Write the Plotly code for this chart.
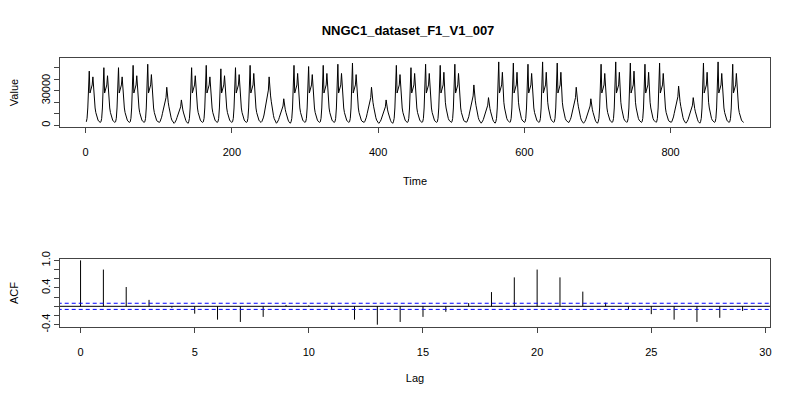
import plotly.graph_objects as go

title = "NNGC1_dataset_F1_V1_007"
# block templates (20 points each); 1.0 / 0.8 mark the two peaks of a block
busy_shape = [3000, 6000, 15000, 30000, 1.0, 28000, 30000, 32000, 35000, 0.8,
              30000, 20000, 15000, 11000, 8000, 6000, 4500, 3500, 3000, 2500]
hump_shape = [2500, 3500, 5000, 7000, 10000, 13000, 16000, 19000, 22000, 24000,
              1.0, 24000, 20000, 16000, 12000, 9000, 6500, 4500, 3000, 2500]
block_types = (["B"] * 5 + ["H"] * 2) * 6 + ["B"] * 3
peak_a = [47000, 50000, 50000, 52000, 53000, 33000, 22000,
          50000, 52000, 49000, 50000, 52000, 42000, 23000,
          52000, 51000, 52000, 53000, 54000, 33000, 22000,
          52000, 50000, 53000, 52000, 53000, 35000, 24000,
          55000, 54000, 53000, 55000, 54000, 33000, 23000,
          53000, 55000, 54000, 53000, 54000, 34000, 24000,
          54000, 55000, 53000]
peak_b = [42000, 43000, 42000, 43000, 44000, 0, 0,
          43000, 42000, 43000, 44000, 45000, 0, 0,
          45000, 44000, 45000, 45000, 44000, 0, 0,
          44000, 45000, 45000, 46000, 45000, 0, 0,
          46000, 46000, 45000, 46000, 46000, 0, 0,
          45000, 46000, 47000, 46000, 45000, 0, 0,
          46000, 45000, 45000]

values = []
for typ, pa, pb in zip(block_types, peak_a, peak_b):
    if typ == "B":
        for v in busy_shape:
            values.append(pa if v == 1.0 else (pb if v == 0.8 else v))
    else:
        for v in hump_shape:
            values.append(pa if v == 1.0 else v * pa / 33000)
time = list(range(1, len(values) + 1))

lags = list(range(0, 30))
acf = [1.0, 0.80, 0.42, 0.14, -0.03, -0.16, -0.29, -0.34, -0.23, 0.03,
       0.02, -0.07, -0.29, -0.40, -0.34, -0.23, -0.12, 0.07, 0.31, 0.63,
       0.80, 0.63, 0.32, 0.08, -0.07, -0.17, -0.29, -0.34, -0.25, -0.10]
conf = 0.067

ax_x, ax_y = [], []
for l, a in zip(lags, acf):
    ax_x += [l, l, None]
    ax_y += [0, a, None]

fig = go.Figure()
fig.add_trace(go.Scatter(x=time, y=values, mode="lines", line=dict(color="black", width=1),
                         xaxis="x", yaxis="y", showlegend=False))
fig.add_trace(go.Scatter(x=ax_x, y=ax_y, mode="lines", line=dict(color="black", width=1),
                         xaxis="x2", yaxis="y2", showlegend=False))
for yv, dash, col in [(0, "solid", "black"), (conf, "4px,3px", "#0000ff"), (-conf, "4px,3px", "#0000ff")]:
    fig.add_trace(go.Scatter(x=[-1, 31], y=[yv, yv], mode="lines",
                             line=dict(color=col, width=1, dash=dash),
                             xaxis="x2", yaxis="y2", showlegend=False))

axcommon = dict(showline=True, linecolor="#444", linewidth=1, mirror=True, ticks="outside",
                ticklen=5, tickcolor="#444", showgrid=False, zeroline=False, automargin=False,
                tickfont=dict(size=11, color="black"))
fig.update_layout(
    width=800, height=400, plot_bgcolor="white", paper_bgcolor="white",
    margin=dict(l=52, r=38, t=0, b=0),
    font=dict(family="Liberation Sans, Arial", color="black"),
    title=dict(text="<b>" + title + "</b>", x=0.5, y=0.955, xanchor="center", font=dict(size=13)),
    xaxis=dict(domain=[0, 1], range=[-35, 936], tickvals=[0, 200, 400, 600, 800], anchor="y",
               ticklabelstandoff=10,
               title=dict(text="Time", font=dict(size=11), standoff=20), **axcommon),
    yaxis=dict(domain=[0.7025, 0.875], range=[-1500, 58400], anchor="x",
               tickvals=[0, 10000, 20000, 30000, 40000, 50000],
               ticktext=["0", "", "", "30000", "", ""], tickangle=-90,
               title=dict(text="Value", font=dict(size=11), standoff=23), **axcommon),
    xaxis2=dict(domain=[0, 1], range=[-0.9, 30.2], tickvals=[0, 5, 10, 15, 20, 25, 30], anchor="y2",
                ticklabelstandoff=10,
                title=dict(text="Lag", font=dict(size=11), standoff=17), **axcommon),
    yaxis2=dict(domain=[0.2025, 0.3725], range=[-0.45, 1.03], anchor="x2",
                tickvals=[-0.4, -0.2, 0, 0.2, 0.4, 0.6, 0.8, 1.0],
                ticktext=["-0.4", "", "", "", "0.4", "", "", "1.0"], tickangle=-90,
                title=dict(text="ACF", font=dict(size=11), standoff=23), **axcommon),
)
fig.write_html("out.html")
